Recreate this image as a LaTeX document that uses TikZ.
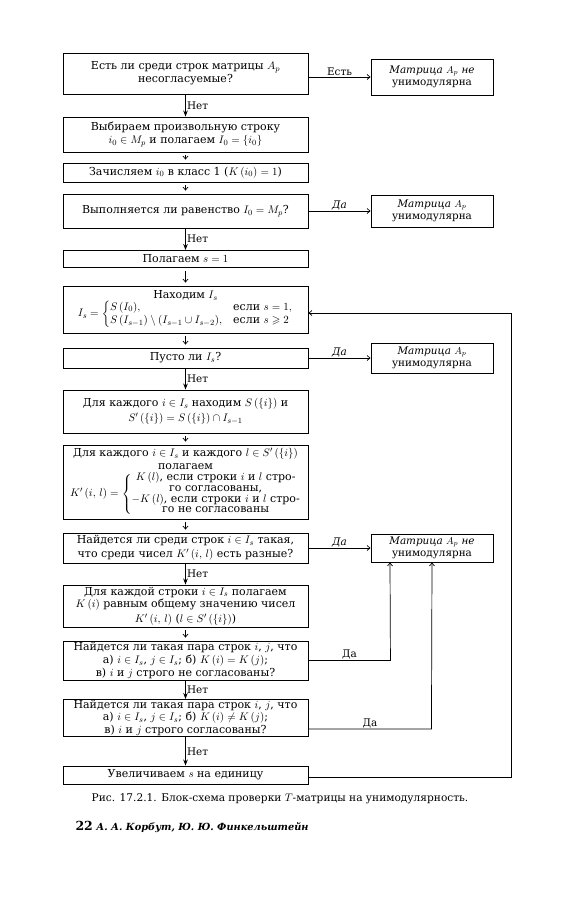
\documentclass[tikz,border=0pt]{standalone}
\usepackage{amsmath,amssymb}
\usepackage{fontspec}
\setmainfont{DejaVu Serif}
\usetikzlibrary{arrows.meta}
\newcommand\fs{\fontsize{11}{12.8}\selectfont}
\newcommand\rfs{\fontsize{10.4}{12.4}\selectfont}
\begin{document}
\begin{tikzpicture}[x=1pt,y=-1pt,
  box/.style={draw, line width=0.9pt, minimum width=245pt, inner sep=0.5pt, align=center, font=\fs},
  rbox/.style={draw, line width=0.9pt, minimum width=122pt, inner sep=1pt, align=center, font=\rfs},
  arr/.style={-{Straight Barb[length=3pt,width=5pt]}, line width=0.7pt},
  netarr/.style={-{Stealth[length=6pt,width=4.5pt]}, line width=1.1pt},
  sarr/.style={-{Straight Barb[length=3pt,width=5pt]}, line width=0.7pt, shorten <=3pt, shorten >=3pt},
  lbl/.style={font=\rfs, inner sep=1pt}]
\fill[white] (0,0) rectangle (572,900);
\useasboundingbox (0,0) rectangle (572,900);

% main column
\node[box, minimum height=41pt] (b1) at (185.5,73.5) {Есть ли среди строк матрицы $A_p$\\ несогласуемые?};
\node[box, minimum height=35pt] (b2) at (185.5,134.5) {Выбираем произвольную строку\\ $i_0\in M_p$ и полагаем $I_0=\{i_0\}$};
\node[box, minimum height=19pt] (b3) at (185.5,172.5) {Зачисляем $i_0$ в класс 1 ($K\,(i_0)=1$)};
\node[box, minimum height=34pt] (b4) at (185.5,211) {Выполняется ли равенство $I_0=M_p$?};
\node[box, minimum height=17pt] (b5) at (185.5,259) {Полагаем $s=1$};
\node[box, minimum height=47pt] (b6) at (185.5,309.5) {Находим $I_s$\\[-2pt]
  $I_s=\begin{cases} S\,(I_0), & \text{если } s=1,\\[-2pt] S\,(I_{s-1})\setminus(I_{s-1}\cup I_{s-2}), & \text{если } s\geqslant 2\end{cases}$};
\node[box, minimum height=20pt] (b7) at (185.5,358) {Пусто ли $I_s$?};
\node[box, minimum height=43pt] (b8) at (185.5,411.5) {Для каждого $i\in I_s$ находим $S\,(\{i\})$ и\\[2pt] $S'\,(\{i\})=S\,(\{i\})\cap I_{s-1}$};
\node[box, minimum height=74pt] (b9) at (185.5,482) {Для каждого $i\in I_s$ и каждого $l\in S'\,(\{i\})$\\ полагаем\\[2pt]
  $K'\,(i,\,l)=\left\{\renewcommand\arraystretch{0.8}\begin{tabular}{@{}c@{}}$K\,(l)$, если строки $i$ и $l$ стро-\\ го согласованы,\\ $-K\,(l)$, если строки $i$ и $l$ стро-\\ го не согласованы\end{tabular}\right.$};
\node[box, minimum height=30pt] (b10) at (185.5,548) {Найдется ли среди строк $i\in I_s$ такая,\\[1pt] что среди чисел $K'\,(i,\,l)$ есть разные?};
\node[box, minimum height=42pt] (b11) at (185.5,606) {Для каждой строки $i\in I_s$ полагаем\\ $K\,(i)$ равным общему значению чисел\\[1.5pt] $K'\,(i,\,l)$ ($l\in S'\,(\{i\})$)};
\node[box, minimum height=39pt] (b12) at (185.5,660.5) {Найдется ли такая пара строк $i$, $j$, что\\ а) $i\in I_s$, $j\in I_s$; б) $K\,(i)=K\,(j)$;\\ в) $i$ и $j$ строго не согласованы?};
\node[box, minimum height=36pt] (b13) at (185.5,718) {Найдется ли такая пара строк $i$, $j$, что\\ а) $i\in I_s$, $j\in I_s$; б) $K\,(i)\neq K\,(j)$;\\ в) $i$ и $j$ строго согласованы?};
\node[box, minimum height=18pt] (b14) at (185.5,775) {Увеличиваем $s$ на единицу};

% right column
\node[rbox, minimum height=36pt] (r1) at (432,77) {\textit{Матрица} $A_p$ \textit{не}\\ унимодулярна};
\node[rbox, minimum height=32pt] (r2) at (432,211) {\textit{Матрица} $A_p$\\ унимодулярна};
\node[rbox, minimum height=30pt] (r3) at (432,358) {\textit{Матрица} $A_p$\\ унимодулярна};
\node[rbox, minimum height=28pt] (r4) at (432,548) {\textit{Матрица} $A_p$ \textit{не}\\ унимодулярна};

% vertical flow
\draw[netarr] (b1) -- node[lbl, right] {Нет} (b2);
\draw[sarr] (b2) -- (b3);
\draw[sarr] (b3) -- (b4);
\draw[netarr] (b4) -- node[lbl, right] {Нет} (b5);
\draw[sarr] (b5) -- (b6);
\draw[sarr] (b6) -- (b7);
\draw[netarr] (b7) -- node[lbl, right] {Нет} (b8);
\draw[sarr] (b8) -- (b9);
\draw[sarr] (b9) -- (b10);
\draw[netarr] (b10) -- node[lbl, right] {Нет} (b11);
\draw[sarr] (b11) -- (b12);
\draw[netarr] (b12) -- node[lbl, right] {Нет} (b13);
\draw[netarr] (b13) -- node[lbl, right] {Нет} (b14);

% to the right
\draw[arr] (b1.east |- r1.west) -- node[lbl, above] {Есть} (r1.west);
\draw[arr] (b4.east |- r2.west) -- node[lbl, above] {\textit{Да}} (r2.west);
\draw[arr] (b7.east |- r3.west) -- node[lbl, above] {\textit{Да}} (r3.west);
\draw[arr] (b10.east |- r4.west) -- node[lbl, above] {\textit{Да}} (r4.west);
\draw[arr] (b12.east) -- node[lbl, above] {Да} ++(82,0) -- ([xshift=-42pt]r4.south);
\draw[arr] ([yshift=-11pt]b13.east) -- node[lbl, above] {Да} ++(123,0) -- (r4.south);
\draw[arr] ([yshift=-2pt]b14.east) -- ++(203,0) |- ([yshift=-3.5pt]b6.east);

% caption
\node[font=\fontsize{10.6}{12}\selectfont] (cap) at (280,799) {Рис. 17.2.1. Блок-схема проверки $T$-матрицы на унимодулярность.};
\node[anchor=west, font=\fontsize{9.8}{11}\selectfont\bfseries\itshape] (auth) at (72,827) {{\upshape\fontsize{12.5}{12}\selectfont 22} А. А. Корбут, Ю. Ю. Финкельштейн};
\end{tikzpicture}
\end{document}
